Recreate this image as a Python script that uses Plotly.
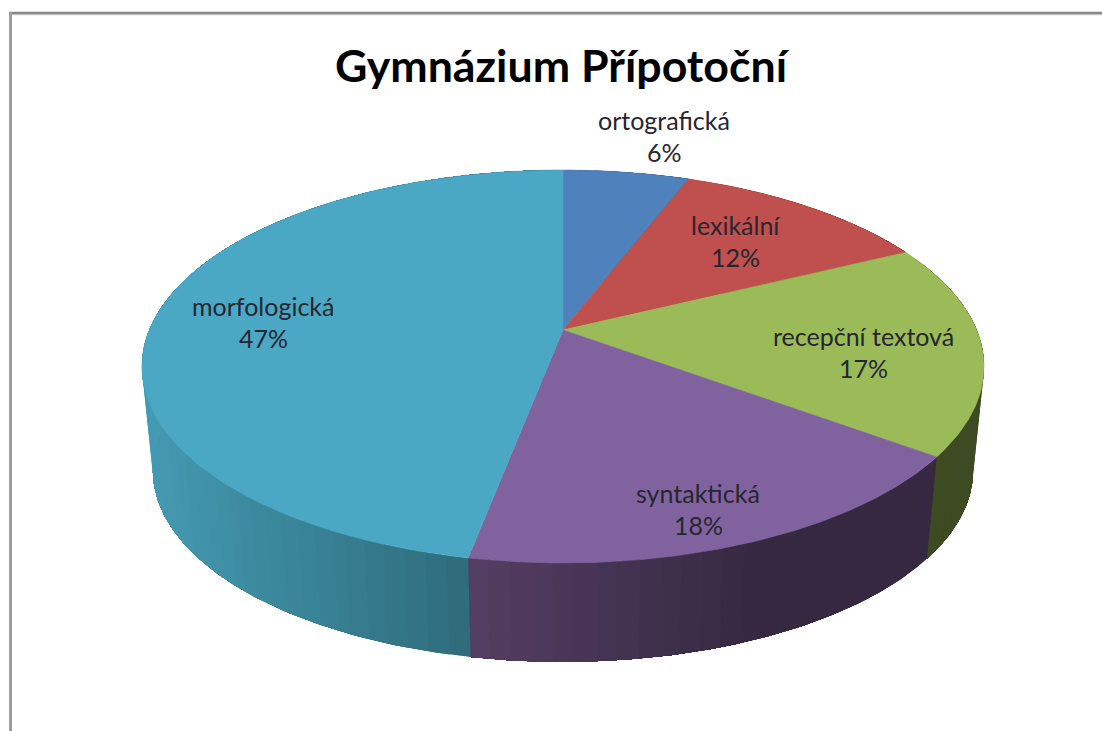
import math
import plotly.graph_objects as go

# --- data ---
title_text = "Gymnázium Přípotoční"
categories = ["ortografická", "lexikální", "recepční textová", "syntaktická", "morfologická"]
values = [5.8, 11.9, 17.45, 17.85, 47.0]

# --- style ---
top_colors = ["#4F81BD", "#C0504D", "#9BBB59", "#80629F", "#4BA8C4"]
side_left = [(50, 80, 120), (120, 50, 48), (61, 74, 34), (84, 62, 100), (68, 154, 178)]
side_right = [(50, 80, 120), (120, 50, 48), (61, 74, 34), (53, 40, 64), (46, 107, 123)]
label_anchor = [(664, 137), (735, 242), (863, 353), (698, 510), (263, 323)]

# --- projection of the pie disc, with perspective ---
CX, CY, R, A, K = 563, 330, 413.7, 189.7, 0.1857
SHRINK, DEPTH = 0.974, 105


def top_point(theta, r=1.0):
    u, v = r * math.sin(theta), r * math.cos(theta)
    w = 1 + K * v
    return CX + R * u / w, CY - A * v / w


def low_point(theta):
    x, y = top_point(theta)
    return CX + SHRINK * (x - CX), CY + SHRINK * (y - CY) + DEPTH


def lerp(a, b, t):
    return tuple(int(round(a[i] + (b[i] - a[i]) * t)) for i in range(3))


total = sum(values)
bounds = [0.0]
for val in values:
    bounds.append(bounds[-1] + val / total * 2 * math.pi)

fig = go.Figure()


def poly(xs, ys, color, width=0.6):
    fig.add_trace(go.Scatter(x=xs, y=ys, mode="lines", fill="toself", fillcolor=color,
                             line=dict(color=color, width=width), hoverinfo="skip",
                             showlegend=False))


# sides: each strip reaches to the end of its slice and the next one paints over it,
# which shades along the rim without seams
GRAD_RANGE = {4: (145, 472), 3: (472, 760)}
for i in range(len(values)):
    a0, a1 = bounds[i], bounds[i + 1]
    n = max(8, int(values[i] * 1.5))
    fine = [a0 + (a1 - a0) * j / 200 for j in range(201)]
    for j in range(n):
        t0 = a0 + (a1 - a0) * j / n
        t_mid = a0 + (a1 - a0) * (j + 0.5) / n
        arc = [t for t in fine if t >= t0 - 1e-9]
        if len(arc) < 2:
            continue
        if i in GRAD_RANGE:
            start, stop = GRAD_RANGE[i]
        else:
            start, stop = 0, 1102
        tt = min(1.0, max(0.0, (top_point(t_mid)[0] - start) / (stop - start)))
        c = lerp(side_left[i], side_right[i], tt)
        p = [top_point(t) for t in arc] + [low_point(t) for t in reversed(arc)]
        p.append(p[0])
        poly([q[0] for q in p], [q[1] for q in p], "rgb(%d,%d,%d)" % c, width=0)

# top face
for i in range(len(values)):
    a0, a1 = bounds[i], bounds[i + 1]
    n = 120
    pts = [top_point(a0 + (a1 - a0) * j / n) for j in range(n + 1)]
    xs = [CX] + [p[0] for p in pts] + [CX]
    ys = [CY] + [p[1] for p in pts] + [CY]
    poly(xs, ys, top_colors[i])

LABEL_FONT = dict(family="Lato, Carlito, sans-serif", size=25, color="#262630")
for name, val, (lx, ly) in zip(categories, values, label_anchor):
    fig.add_annotation(x=lx, y=ly, xref="x", yref="y", showarrow=False, text=name,
                       yshift=16.8, font=LABEL_FONT)
    fig.add_annotation(x=lx, y=ly, xref="x", yref="y", showarrow=False, text=f"{round(val)}%",
                       yshift=-15, font=LABEL_FONT)

fig.add_annotation(x=562, y=65, xref="x", yref="y", showarrow=False, text=title_text,
                   font=dict(family="Lato, sans-serif", size=44.7, color="#000000", weight="bold"))

frame = [
    dict(x0=9, y0=13, x1=1102, y1=13, line=dict(color="#888888", width=2.4)),
    dict(x0=9, y0=14.7, x1=1102, y1=14.7, line=dict(color="#bbbbbb", width=1)),
    dict(x0=10.5, y0=12, x1=10.5, y1=731, line=dict(color="#9c9c9c", width=3)),
]
for s in frame:
    fig.add_shape(type="line", xref="x", yref="y", layer="above", **s)

fig.update_layout(
    width=1102, height=731, margin=dict(l=0, r=0, t=0, b=0),
    paper_bgcolor="white", plot_bgcolor="white", showlegend=False,
    xaxis=dict(range=[0, 1102], visible=False, fixedrange=True),
    yaxis=dict(range=[731, 0], visible=False, fixedrange=True),
)
fig.write_html("out.html", config={"displayModeBar": False},
               post_script="document.body.style.margin='0';document.documentElement.style.overflow='hidden';")
